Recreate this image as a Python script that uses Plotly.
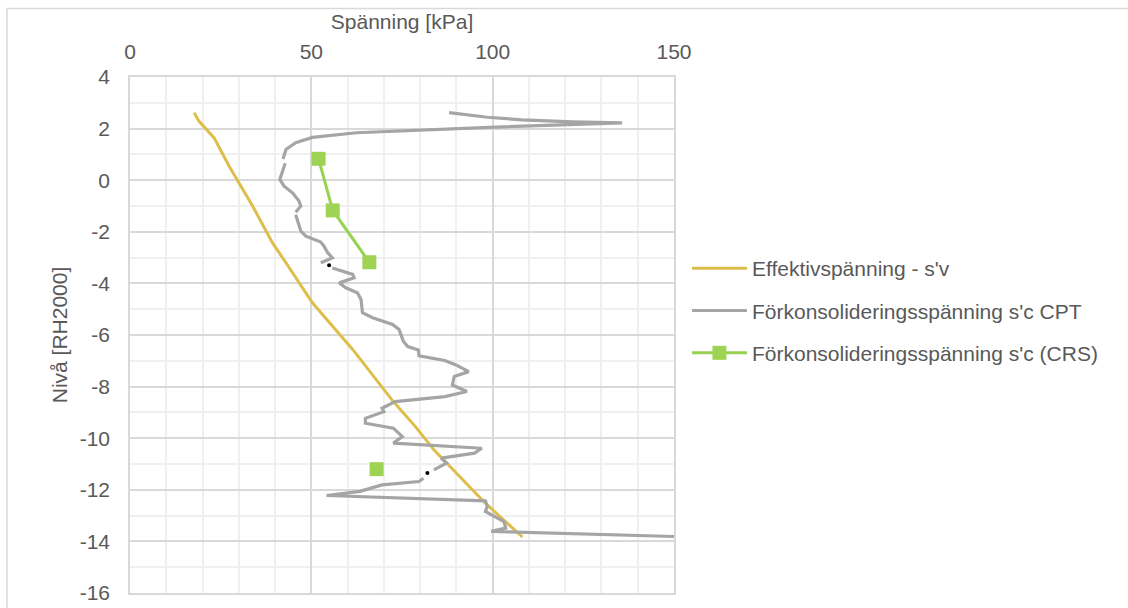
import plotly.graph_objects as go

# Effective vertical stress profile (kPa vs level)
sv_kpa = [17.7, 19.0, 23.2, 27.3, 33.8, 39.3, 43.0, 47.1, 50.3, 56.7, 61.4,
          72.6, 78.7, 83.8, 98.0, 108.2]
sv_level = [2.61, 2.29, 1.64, 0.55, -1.0, -2.43, -3.2, -4.1, -4.75, -5.8, -6.56,
            -8.58, -9.55, -10.45, -12.52, -13.83]

# Preconsolidation pressure from CPT (None = break in the record)
cpt_kpa = [88.0, 98.5, 108.0, 122.0, 135.7, 122.0, 99.0, 62.4, 50.3, 45.7, 43.0, 42.2,
           None,
           42.8, 42.0, 41.3, 42.5, 44.8, 46.6, 47.1, 45.7,
           None,
           45.7, 46.6, 47.1, 48.5, 52.6, 53.5, 54.5, 55.8, 52.6,
           None,
           55.8, 61.4, 61.8, 57.7, 59.5, 62.7, 63.7, 64.1, 66.9, 72.4, 74.2, 75.4,
           76.6, 79.5, 79.7, 86.8, 89.9, 93.4, 89.4, 88.9, 92.9, 86.8, 73.1, 69.5,
           70.0, 64.9, 64.9, 72.6, 75.1, 72.6, 97.0, 95.0, 85.8, 87.3, 83.8,
           None,
           80.9, 79.7, 69.5, 63.4, 54.2, 98.0, 98.5, 98.0, 103.1, 103.6, 99.6, 150.0]
cpt_level = [2.62, 2.44, 2.34, 2.26, 2.22, 2.16, 2.05, 1.84, 1.66, 1.45, 1.19, 0.82,
             None,
             0.66, 0.35, 0.03, -0.23, -0.49, -0.81, -1.0, -1.24,
             None,
             -1.34, -1.72, -1.97, -2.17, -2.40, -2.56, -2.81, -3.01, -3.2,
             None,
             -3.4, -3.65, -3.78, -3.98, -4.17, -4.36, -4.62, -5.14, -5.33, -5.59, -5.79, -6.25,
             -6.45, -6.58, -6.81, -6.99, -7.16, -7.42, -7.61, -7.94, -8.19, -8.39, -8.58, -8.84,
             -8.97, -9.23, -9.42, -9.61, -9.94, -10.19, -10.39, -10.58, -10.77, -10.97, -11.23,
             None,
             -11.55, -11.68, -11.81, -12.06, -12.22, -12.43, -12.65, -12.84, -13.23, -13.48, -13.61, -13.81]

# Single points between CPT segments
dot_kpa = [54.9, 82.0]
dot_level = [-3.3, -11.35]

# Preconsolidation pressure from CRS tests
crs_kpa = [52.0, 55.9, 66.0, None, 68.0]
crs_level = [0.83, -1.17, -3.18, None, -11.2]

# Axis ticks
x_ticks = [0, 50, 100, 150]
x_labels = ["0", "50", "100", "150"]
y_ticks = [4, 2, 0, -2, -4, -6, -8, -10, -12, -14, -16]
y_labels = ["4", "2", "0", "-2", "-4", "-6", "-8", "-10", "-12", "-14", "-16"]

FONT = "Liberation Sans, Arial, sans-serif"
TXT = "#595959"
FS = 21

fig = go.Figure()
fig.add_trace(go.Scatter(
    x=sv_kpa, y=sv_level, mode="lines", name="Effektivspänning - s'v",
    line=dict(color="#DEBE4A", width=3), legendgroup="a"))
fig.add_trace(go.Scatter(
    x=cpt_kpa, y=cpt_level, mode="lines", name="Förkonsolideringsspänning s'c CPT",
    line=dict(color="#A5A5A5", width=3.2), connectgaps=False, legendgroup="b"))
fig.add_trace(go.Scatter(
    x=crs_kpa, y=crs_level, mode="lines+markers",
    name="Förkonsolideringsspänning s'c (CRS)",
    line=dict(color="#96D152", width=3), connectgaps=False,
    marker=dict(symbol="square", size=14, color="#9ED354"), legendgroup="c"))
fig.add_trace(go.Scatter(
    x=dot_kpa, y=dot_level, mode="markers", showlegend=False,
    marker=dict(color="black", size=4)))

fig.update_layout(
    width=1128, height=608,
    margin=dict(l=130, r=454, t=77, b=15, autoexpand=False),
    paper_bgcolor="white", plot_bgcolor="white",
    font=dict(family=FONT, size=FS, color=TXT),
    showlegend=True,
    legend=dict(xref="container", yref="container", x=0.609, y=0.592,
                xanchor="left", yanchor="top",
                font=dict(family=FONT, size=FS, color=TXT),
                tracegroupgap=12, itemwidth=55, bgcolor="rgba(0,0,0,0)"),
    shapes=[dict(type="rect", xref="paper", yref="paper",
                 x0=(7 - 130) / 544, x1=2.0, y0=-0.2, y1=(593 - 8.5) / 516,
                 line=dict(color="#D9D9D9", width=1.5), layer="below")],
)

fig.update_xaxes(
    side="top", range=[0, 150], tickvals=x_ticks, ticktext=x_labels,
    showgrid=True, gridcolor="#D9D9D9", gridwidth=1.5,
    minor=dict(dtick=10, tick0=0, showgrid=True, gridcolor="#F0F0F0", gridwidth=1.5),
    showline=True, linecolor="#D9D9D9", linewidth=1.5, mirror=True,
    zeroline=False, ticks="", ticklabelstandoff=8, automargin=False,
    tickfont=dict(family=FONT, size=FS, color=TXT),
    title=dict(text="Spänning [kPa]", font=dict(family=FONT, size=FS, color=TXT),
               standoff=4),
)
fig.update_yaxes(
    range=[-16, 4], tickvals=y_ticks, ticktext=y_labels,
    showgrid=True, gridcolor="#D9D9D9", gridwidth=1.5,
    minor=dict(dtick=1, tick0=0, showgrid=True, gridcolor="#F0F0F0", gridwidth=1.5),
    showline=True, linecolor="#D9D9D9", linewidth=1.5, mirror=True,
    zeroline=False, ticks="", ticklabelstandoff=14, automargin=False,
    tickfont=dict(family=FONT, size=FS, color=TXT),
    title=dict(text="Nivå [RH2000]", font=dict(family=FONT, size=FS, color=TXT),
               standoff=6),
)

fig.write_html("out.html")
